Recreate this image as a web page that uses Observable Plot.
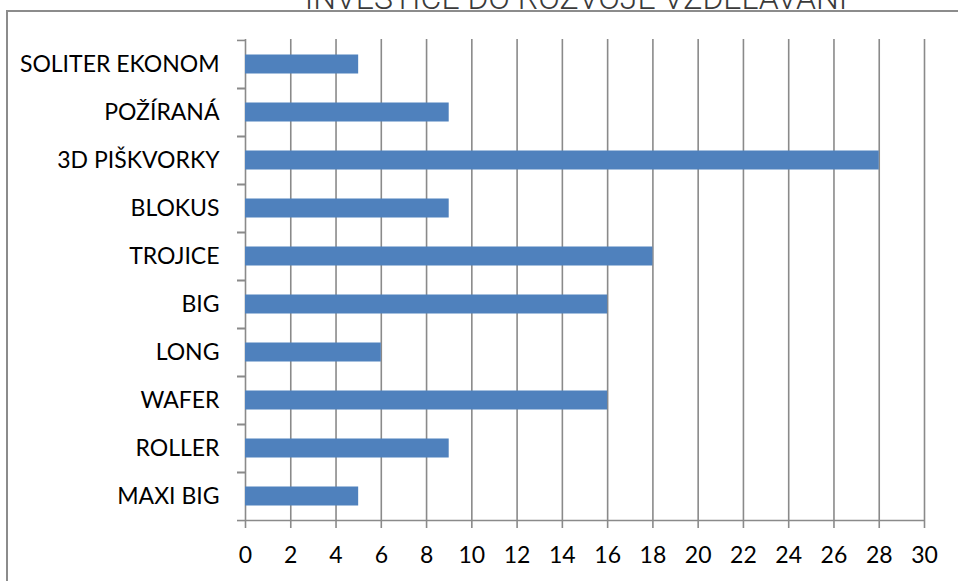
<!DOCTYPE html>
<html>
<head>
<meta charset="utf-8">
<script src="https://cdn.jsdelivr.net/npm/d3@7"></script>
<script src="https://cdn.jsdelivr.net/npm/@observablehq/plot@0.6"></script>
<style>
  html, body { margin: 0; padding: 0; background: #fff; overflow: hidden; }
  #wrap { position: relative; width: 958px; height: 581px; overflow: hidden; background: #fff; }
  .edge { position: absolute; background: #8c8c8c; z-index: 5; }
  #edgeTop { left: 6px; top: 10px; width: 952px; height: 2px; }
  #edgeLeft { left: 6px; top: 10px; width: 2px; height: 571px; }
  #title { position: absolute; left: 0; width: 1152px; text-align: center; top: -21px; font-family: "Liberation Sans Narrow", "Roboto", sans-serif; font-weight: 300; font-size: 32px; line-height: 38px; color: #3a3a3a; white-space: nowrap; z-index: 4; }
  #chart { position: absolute; left: 0; top: 0; z-index: 1; }
</style>
</head>
<body>
<div id="wrap">
  <div id="chart"></div>
  <div id="title">INVESTICE DO ROZVOJE VZDĚLÁVÁNÍ</div>
  <div class="edge" id="edgeTop"></div>
  <div class="edge" id="edgeLeft"></div>
</div>
<script>
const categories = ["SOLITER EKONOM", "POŽÍRANÁ", "3D PIŠKVORKY", "BLOKUS", "TROJICE", "BIG", "LONG", "WAFER", "ROLLER", "MAXI BIG"];
const values = [5, 9, 28, 9, 18, 16, 6, 16, 9, 5];
const xTicks = [0, 2, 4, 6, 8, 10, 12, 14, 16, 18, 20, 22, 24, 26, 28, 30];

const data = categories.map((c, i) => ({ name: c, value: values[i] }));
const font = "Lato, 'Open Sans', sans-serif";
const gridColor = "#8a8a8a";

const W = 958, H = 581;
const mT = 39, mB = 61, mL = 245, mR = 34;
const band = (H - mT - mB) / categories.length;

const chart = Plot.plot({
  width: W,
  height: H,
  marginTop: mT,
  marginBottom: mB,
  marginLeft: mL,
  marginRight: mR,
  style: { fontFamily: font, fontSize: "23px", color: "#000", background: "transparent", overflow: "visible" },
  x: { domain: [0, 30], ticks: xTicks },
  y: { domain: categories, padding: 0 },
  marks: [
    Plot.gridX(xTicks, { stroke: gridColor, strokeOpacity: 1, strokeWidth: 1.6 }),
    Plot.barX(data, { x: "value", y: "name", fill: "#4f81bd", insetTop: 14.5, insetBottom: 14.5 }),
    Plot.ruleY([categories[categories.length - 1]], { x1: 0, x2: 30, stroke: gridColor, strokeWidth: 1.6, dy: band / 2 }),
    Plot.axisY(categories, { tickSize: 8, tickFormat: null, stroke: gridColor, strokeWidth: 1.6, strokeOpacity: 1, dy: -band / 2, label: null }),
    Plot.axisY(categories, { tickSize: 8, tickFormat: null, stroke: gridColor, strokeWidth: 1.6, strokeOpacity: 1, dy: band / 2, label: null, ticks: [categories[categories.length - 1]] }),
    Plot.axisY({ tickSize: 0, tickPadding: 26, label: null, fill: "#000", fontSize: 23 }),
    Plot.axisX({ ticks: xTicks, tickSize: 8, tickPadding: 18, stroke: gridColor, strokeWidth: 1.6, strokeOpacity: 1, fill: "#000", fontSize: 23, label: null })
  ]
});
document.getElementById("chart").appendChild(chart);
</script>
</body>
</html>
